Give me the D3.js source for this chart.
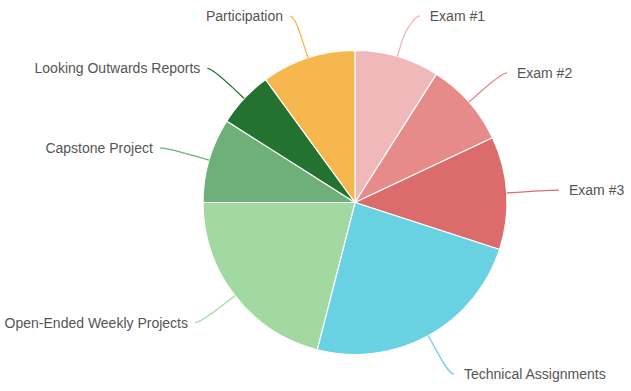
<!DOCTYPE html>
<html><head><meta charset="utf-8">
<script src="https://cdn.jsdelivr.net/npm/d3@7"></script>
<style>html,body{margin:0;padding:0;background:#fff;}svg{display:block;}</style>
</head><body>
<svg id="c" width="631" height="391"></svg>
<script>
const categories = ["Exam #1","Exam #2","Exam #3","Technical Assignments","Open-Ended Weekly Projects","Capstone Project","Looking Outwards Reports","Participation"];
const values = [9, 9, 12, 24, 21, 9, 6, 10];
const colors = ["#f0b8b8","#e78a8a","#dc6b6b","#68d2e3","#a1d9a1","#6fb07a","#247230","#f6b74e"];

const W = 631, H = 391, cx = 355, cy = 202.5, r = 152;
const svg = d3.select("#c");
const g = svg.append("g").attr("transform", `translate(${cx},${cy})`);

const pie = d3.pie().sort(null).value(d => d);
const arcs = pie(values);
const arc = d3.arc().innerRadius(0).outerRadius(r);

g.selectAll("path.slice").data(arcs).join("path")
  .attr("class","slice")
  .attr("d", arc)
  .attr("fill", (d,i) => colors[i])
  .attr("stroke", "#fff").attr("stroke-width", 1.2).attr("stroke-linejoin","round");

const Ry = 196, Rx = 205, minY = 16 - cy, maxY = 374 - cy;
arcs.forEach((d, i) => {
  const a = (d.startAngle + d.endAngle) / 2;
  const sx = Math.sin(a), sy = -Math.cos(a);
  const left = sx < 0;
  const yRaw = sy * Ry;
  const y = Math.max(minY, Math.min(maxY, yRaw));
  const dyUsed = y + Math.sign(y) * 8;
  const dx = Math.sqrt(Math.max(0, Rx*Rx - dyUsed*dyUsed));
  const ex = left ? -dx : dx;
  const touch = [sx * r, sy * r];
  const brk = [sx * (r + 14), sy * (r + 14)];
  const p = d3.path();
  p.moveTo(ex, y);
  p.bezierCurveTo(ex + (left ? 5 : -5), y, 2*brk[0] - touch[0], 2*brk[1] - touch[1], brk[0], brk[1]);
  p.lineTo(touch[0], touch[1]);
  g.append("path").attr("d", p.toString()).attr("fill","none")
    .attr("stroke", colors[i]).attr("stroke-width", 1.3);
  g.append("text")
    .attr("x", ex + (left ? -7 : 10)).attr("y", y + 5)
    .attr("text-anchor", left ? "end" : "start")
    .attr("font-family", "'Liberation Sans', Arial, Helvetica, sans-serif")
    .attr("font-size", 14).attr("fill", "#555")
    .text(categories[i]);
});
</script>
</body></html>
